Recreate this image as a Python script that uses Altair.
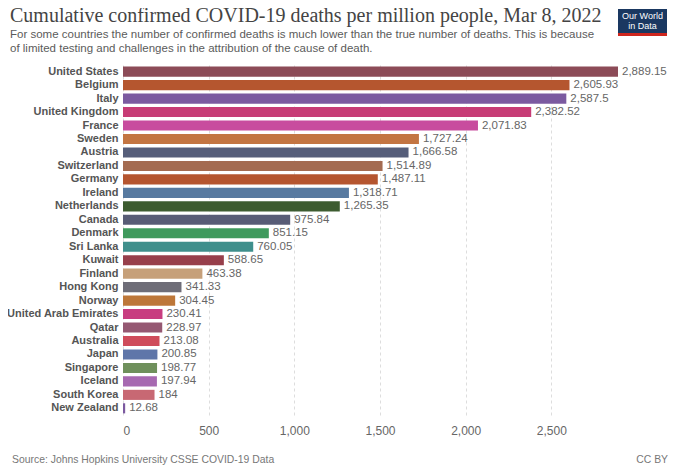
import altair as alt
import pandas as pd

countries = ["United States", "Belgium", "Italy", "United Kingdom", "France", "Sweden",
             "Austria", "Switzerland", "Germany", "Ireland", "Netherlands", "Canada",
             "Denmark", "Sri Lanka", "Kuwait", "Finland", "Hong Kong", "Norway",
             "United Arab Emirates", "Qatar", "Australia", "Japan", "Singapore",
             "Iceland", "South Korea", "New Zealand"]
values = [2889.15, 2605.93, 2587.5, 2382.52, 2071.83, 1727.24, 1666.58, 1514.89,
          1487.11, 1318.71, 1265.35, 975.84, 851.15, 760.05, 588.65, 463.38, 341.33,
          304.45, 230.41, 228.97, 213.08, 200.85, 198.77, 197.94, 184, 12.68]
colors = ["#8c4b57", "#b5562f", "#7b5aa0", "#c73c76", "#c84c9e", "#c37542",
          "#565e7a", "#a46b51", "#b5552f", "#587aa0", "#3d5c30", "#585c76",
          "#3f9a5d", "#3f8f8c", "#973f4b", "#c6a07a", "#6e6d78", "#bd7739",
          "#c83d80", "#955872", "#cf4c5b", "#5f76a9", "#6f905c", "#a769b1",
          "#c86873", "#7b59a0"]
ticks = [0, 500, 1000, 1500, 2000, 2500]

title_text = "Cumulative confirmed COVID-19 deaths per million people, Mar 8, 2022"
subtitle_lines = ["For some countries the number of confirmed deaths is much lower than the true number of deaths. This is because",
                  "of limited testing and challenges in the attribution of the cause of death."]
source_text = "Source: Johns Hopkins University CSSE COVID-19 Data"
license_text = "CC BY"

df = pd.DataFrame({"country": countries, "value": values})

x = alt.X("value:Q", scale=alt.Scale(domain=[0, 2889.15], nice=False),
          axis=alt.Axis(values=ticks, title=None, domain=False, ticks=False,
                        grid=True, gridDash=[3, 3], gridColor="#dddddd",
                        labelColor="#666666", labelFontSize=12, labelPadding=10,
                        labelFont="Liberation Sans", format=",d"))
y = alt.Y("country:N", sort=countries,
          scale=alt.Scale(paddingInner=0.25, paddingOuter=0.12),
          axis=alt.Axis(title=None, domain=False, ticks=False, grid=False,
                        labelColor="#555555", labelFontWeight="bold",
                        labelFontSize=11, labelFont="Liberation Sans",
                        labelPadding=5))

base = alt.Chart(df)
bars = base.mark_bar().encode(
    x=x, y=y,
    color=alt.Color("country:N", scale=alt.Scale(domain=countries, range=colors), legend=None),
)
labels = base.mark_text(align="left", baseline="middle", dx=4, fontSize=11.5,
                        font="Liberation Sans", color="#666666").encode(
    x=alt.X("value:Q"), y=alt.Y("country:N", sort=countries),
    text=alt.Text("value:Q", format=",.2~f"),
)

one = alt.Chart(pd.DataFrame({"a": [0]}))
logo_bg = one.mark_rect(color="#1a3861").encode(
    x=alt.value(495), x2=alt.value(544), y=alt.value(-56), y2=alt.value(-32))
logo_red = one.mark_rect(color="#ce261e").encode(
    x=alt.value(495), x2=alt.value(544), y=alt.value(-32), y2=alt.value(-29))
logo_t1 = one.mark_text(color="white", fontSize=9, font="Liberation Sans",
                        align="center", baseline="middle").encode(
    x=alt.value(519.5), y=alt.value(-49), text=alt.value("Our World"))
logo_t2 = one.mark_text(color="white", fontSize=9, font="Liberation Sans",
                        align="center", baseline="middle").encode(
    x=alt.value(519.5), y=alt.value(-39), text=alt.value("in Data"))
title = one.mark_text(color="#444444", fontSize=20, font="Liberation Serif",
                      align="left", baseline="alphabetic").encode(
    x=alt.value(-113), y=alt.value(-43), text=alt.value(title_text))
sub1 = one.mark_text(color="#5b5b5b", fontSize=11.5, font="Liberation Sans",
                     align="left", baseline="alphabetic").encode(
    x=alt.value(-113), y=alt.value(-27), text=alt.value(subtitle_lines[0]))
sub2 = one.mark_text(color="#5b5b5b", fontSize=11.5, font="Liberation Sans",
                     align="left", baseline="alphabetic").encode(
    x=alt.value(-113), y=alt.value(-13), text=alt.value(subtitle_lines[1]))
src = one.mark_text(color="#777777", fontSize=10.4, font="Liberation Sans",
                    align="left", baseline="middle").encode(
    x=alt.value(-111), y=alt.value(395), text=alt.value(source_text))
cc = one.mark_text(color="#777777", fontSize=10.4, font="Liberation Sans",
                   align="right", baseline="middle").encode(
    x=alt.value(545), y=alt.value(395), text=alt.value(license_text))

chart = alt.layer(bars, labels, logo_bg, logo_red, logo_t1, logo_t2,
                  title, sub1, sub2, src, cc).properties(
    width=495, height=350,
    autosize=alt.AutoSizeParams(type="none"),
    padding={"left": 115, "top": 57, "right": 54, "bottom": 50},
).configure_view(stroke=None)

chart.save("out.html", embed_options={"renderer": "svg", "actions": False})
